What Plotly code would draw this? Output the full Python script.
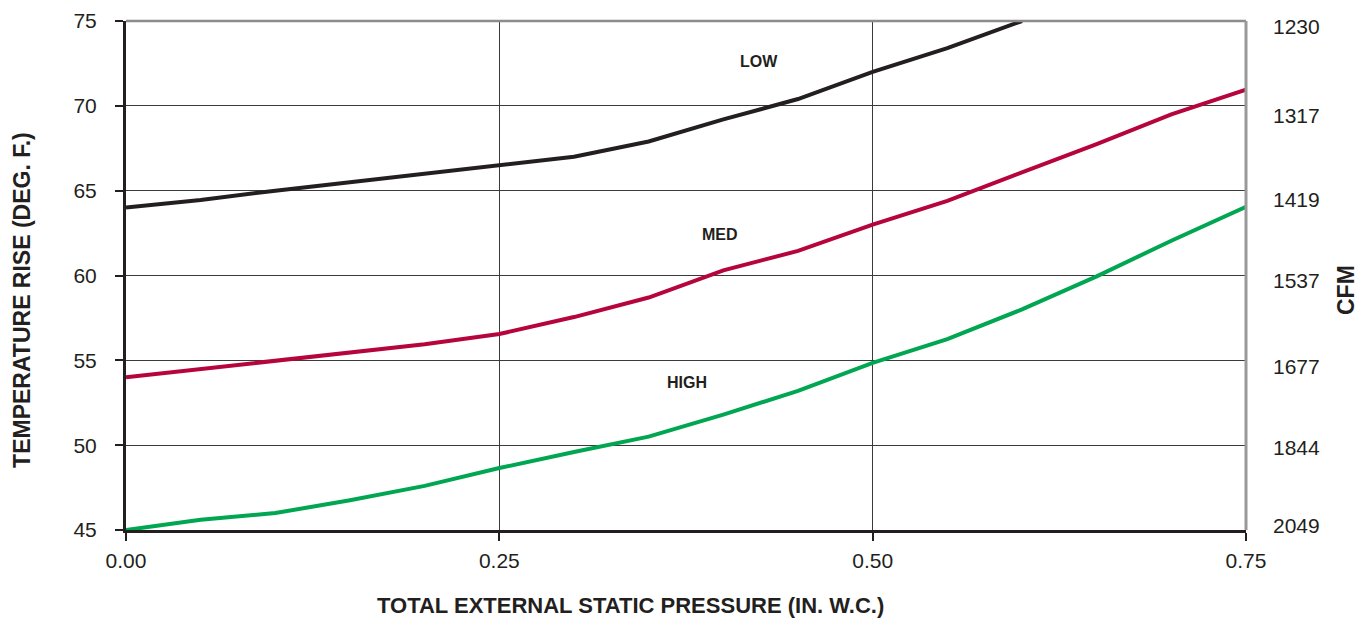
import plotly.graph_objects as go

pressure = [0.00, 0.05, 0.10, 0.15, 0.20, 0.25, 0.30, 0.35, 0.40, 0.45, 0.50, 0.55, 0.60, 0.65, 0.70, 0.75]
low_rise = [64.0, 64.45, 65.0, 65.5, 66.0, 66.5, 67.0, 67.9, 69.2, 70.4, 72.0, 73.4, 75.0]
med_rise = [54.0, 54.5, 54.95, 55.5, 55.95, 56.55, 57.55, 58.7, 60.3, 61.45, 63.0, 64.4, 66.05, 67.75, 69.5, 70.95]
high_rise = [45.0, 45.6, 46.0, 46.75, 47.6, 48.65, 49.6, 50.5, 51.8, 53.2, 54.85, 56.25, 58.0, 59.95, 62.05, 64.05]

temp_ticks = [45, 50, 55, 60, 65, 70, 75]
cfm_ticks = [45.25, 49.85, 54.6, 59.7, 64.45, 69.45, 74.65]
cfm_labels = ["2049", "1844", "1677", "1537", "1419", "1317", "1230"]
x_ticks = [0.0, 0.25, 0.5, 0.75]
x_tick_labels = ["0.00", "0.25", "0.50", "0.75"]

series_names = ["LOW", "MED", "HIGH"]
series_colors = ["#231f20", "#b5053c", "#00a651"]
label_pos = [(0.424, 72.64), (0.398, 62.39), (0.376, 53.67)]

TXT = "#231f20"
FONT = "Liberation Sans, Arial, Helvetica, sans-serif"

fig = go.Figure()
for name, ys, col in zip(series_names, [low_rise, med_rise, high_rise], series_colors):
    fig.add_trace(go.Scatter(x=pressure[:len(ys)], y=ys, mode="lines", name=name,
                             line=dict(color=col, width=4), showlegend=False,
                             cliponaxis=True))
# invisible trace on secondary axis
fig.add_trace(go.Scatter(x=[0, 0.75], y=[45, 75], yaxis="y2", mode="lines",
                         line=dict(width=0), showlegend=False, hoverinfo="skip"))

for name, (lx, ly) in zip(series_names, label_pos):
    fig.add_annotation(x=lx, y=ly, text="<b>" + name + "</b>", showarrow=False,
                       xanchor="center", yanchor="middle",
                       font=dict(size=16, color=TXT, family=FONT))

# top border (gray) and right border
fig.add_shape(type="line", xref="paper", yref="paper", x0=0, x1=1, y0=1, y1=1,
              line=dict(color="#8c8c8c", width=2.5), layer="above")
fig.add_shape(type="line", xref="paper", yref="paper", x0=1, x1=1, y0=0, y1=1,
              line=dict(color="#999999", width=3), layer="above")

fig.add_annotation(xref="paper", yref="paper", x=-0.0929, y=0.452,
                   xanchor="center", yanchor="middle",
                   text="<b>TEMPERATURE RISE (DEG. F.)</b>", textangle=-90, showarrow=False,
                   font=dict(size=23, color=TXT, family=FONT))
fig.add_annotation(xref="paper", yref="paper", x=1.0893, y=0.4715,
                   xanchor="center", yanchor="middle",
                   text="<b>CFM</b>", textangle=-90, showarrow=False,
                   font=dict(size=23, color=TXT, family=FONT))
fig.add_annotation(xref="paper", yref="paper", x=0.45, y=-0.1493,
                   xanchor="center", yanchor="middle",
                   text="<b>TOTAL EXTERNAL STATIC PRESSURE (IN. W.C.)</b>", showarrow=False,
                   font=dict(size=22, color=TXT, family=FONT))

fig.update_layout(
    width=1362, height=612,
    margin=dict(l=118, r=124, t=13, b=90, autoexpand=False),
    paper_bgcolor="white", plot_bgcolor="white",
    font=dict(family=FONT, color=TXT, size=21),
    xaxis=dict(range=[0, 0.75], tickvals=x_ticks, ticktext=x_tick_labels,
               showgrid=True, gridcolor="#3a3a3a", gridwidth=1,
               showline=True, linecolor="#231f20", linewidth=3,
               ticks="outside", ticklen=8, tickwidth=2, tickcolor="#231f20",
               ticklabelstandoff=2, zeroline=False, fixedrange=True, automargin=False),
    yaxis=dict(range=[45, 75], tickvals=temp_ticks,
               showgrid=True, gridcolor="#3a3a3a", gridwidth=1,
               showline=True, linecolor="#231f20", linewidth=3,
               ticks="outside", ticklen=8, tickwidth=2, tickcolor="#231f20",
               ticklabelstandoff=14, zeroline=False, fixedrange=True, automargin=False),
    yaxis2=dict(range=[45, 75], tickvals=cfm_ticks, ticktext=cfm_labels,
                overlaying="y", side="right", showgrid=False, showline=False,
                ticks="", ticklabelstandoff=26, zeroline=False, fixedrange=True,
                automargin=False),
)

fig.write_html("out.html")
